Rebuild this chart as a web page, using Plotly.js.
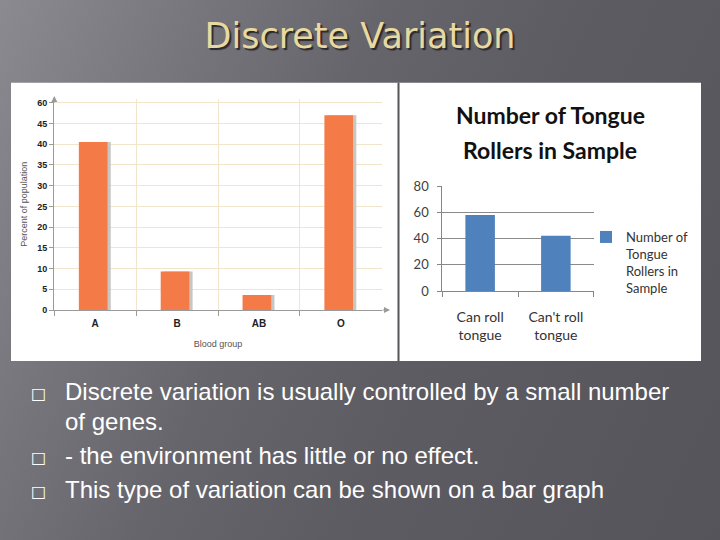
<!DOCTYPE html>
<html>
<head>
<meta charset="utf-8">
<script src="https://cdn.plot.ly/plotly-3.0.1.min.js"></script>
<style>
  html, body { margin: 0; padding: 0; }
  #slide {
    width: 720px; height: 540px;
    background: linear-gradient(115deg, #8b8a90 0%, #76757b 22%, #66656b 40%, #5d5c62 60%, #55545a 100%);
  }
</style>
</head>
<body>
<div id="slide"></div>
<script>
// ---- data ----
const slideTitle = 'Discrete Variation';

const bloodGroups = ['A', 'B', 'AB', 'O'];
const percentOfPopulation = [40.5, 9.3, 3.6, 47];
const percentTickVals = [0, 5, 10, 15, 20, 25, 30, 35, 40, 45, 50];
const percentTickText = ['0', '5', '10', '15', '20', '25', '30', '35', '40', '45', '60'];

const tongueCategories = ['Can roll tongue', "Can't roll tongue"];
const tongueTickText = ['Can roll<br>tongue', "Can't roll<br>tongue"];
const tongueRollers = [58, 42];
const tongueSeriesName = 'Number of<br>Tongue<br>Rollers in<br>Sample';
const tongueTitleLines = ['Number of Tongue', 'Rollers in Sample'];

const bulletLines = [
  'Discrete variation is usually controlled by a small number',
  'of genes.',
  '- the environment has little or no effect.',
  'This type of variation can be shown on a bar graph'
];

// ---- helpers (pixel -> paper) ----
const W = 720, H = 540;
const px = x => x / W;
const py = y => 1 - y / H;

const orange = '#f47a47';
const shadow = '#c9c7c4';
const blue = '#4f81bd';
const beige = '#f1e6cb';

const traces = [
  { type: 'bar', x: bloodGroups, y: percentOfPopulation, xaxis: 'x', yaxis: 'y',
    marker: { color: shadow }, width: 0.35, offset: -0.16, hoverinfo: 'skip', showlegend: false },
  { type: 'bar', x: bloodGroups, y: percentOfPopulation, xaxis: 'x', yaxis: 'y',
    marker: { color: orange }, width: 0.35, offset: -0.2, name: 'Percent of population', showlegend: false },
  { type: 'bar', x: tongueCategories, y: tongueRollers, xaxis: 'x2', yaxis: 'y2',
    marker: { color: blue }, width: 0.39, name: tongueSeriesName, showlegend: true }
];

const annotations = [
  { text: tongueTitleLines[0], xref: 'paper', yref: 'paper', x: px(550), y: py(115), showarrow: false,
    xanchor: 'center', yanchor: 'middle', font: { family: 'Lato', size: 23, color: '#111' , weight: 'bold'} },
  { text: tongueTitleLines[1], xref: 'paper', yref: 'paper', x: px(550), y: py(150), showarrow: false,
    xanchor: 'center', yanchor: 'middle', font: { family: 'Lato', size: 23, color: '#111', weight: 'bold' } },
  // axis arrowheads (left chart)
  { xref: 'paper', yref: 'paper', x: px(54.3), y: py(96), ax: 0, ay: 8, axref: 'pixel', ayref: 'pixel',
    showarrow: true, arrowhead: 2, arrowsize: 1, arrowwidth: 1.2, arrowcolor: '#9a9a9a', text: '' },
  { xref: 'paper', yref: 'paper', x: px(390), y: py(310), ax: -9, ay: 0, axref: 'pixel', ayref: 'pixel',
    showarrow: true, arrowhead: 2, arrowsize: 1, arrowwidth: 1.2, arrowcolor: '#9a9a9a', text: '' }
];

const bulletY = [391, 421, 455, 489];
bulletLines.forEach((t, i) => {
  annotations.push({ text: t, xref: 'paper', yref: 'paper', x: px(63), y: py(bulletY[i]), showarrow: false,
    xanchor: 'left', yanchor: 'middle', font: { family: 'Liberation Sans', size: 24, color: '#ffffff' } });
});
[0, 2, 3].forEach(i => {
  annotations.push({ text: '\u25A1', xref: 'paper', yref: 'paper', x: px(38.5), y: py(bulletY[i] + 2), showarrow: false,
    xanchor: 'center', yanchor: 'middle', font: { family: 'DejaVu Sans', size: 16, color: '#ffffff' } });
});

const layout = {
  width: W, height: H,
  margin: { l: 0, r: 0, t: 0, b: 0 },
  paper_bgcolor: 'rgba(0,0,0,0)',
  plot_bgcolor: 'rgba(0,0,0,0)',
  barmode: 'overlay',
  title: { text: slideTitle, x: 0.5, xanchor: 'center', y: py(36), yanchor: 'middle',
    font: { family: 'DejaVu Sans', size: 35, color: '#e8d9a2', shadow: '2px 2px 1px #2a2a2e' } },
  xaxis: {
    domain: [px(54.3), px(381.7)], anchor: 'y', type: 'category', range: [-0.5, 3.5],
    tickson: 'boundaries', ticks: 'outside', ticklen: 5, tickcolor: '#9a9a9a',
    ticklabelstandoff: 4,
    showgrid: true, gridcolor: beige, gridwidth: 1,
    showline: true, linecolor: '#9a9a9a', linewidth: 1.2,
    tickfont: { family: 'Liberation Sans', size: 10, color: '#222', weight: 'bold' },
    title: { text: 'Blood group', font: { family: 'Liberation Sans', size: 9, color: '#555' }, standoff: 12 },
    fixedrange: true
  },
  yaxis: {
    domain: [py(310), py(98.6)], anchor: 'x', range: [0, 51],
    tickvals: percentTickVals, ticktext: percentTickText,
    ticks: 'outside', ticklen: 4, tickcolor: '#9a9a9a',
    showgrid: true, gridcolor: beige, gridwidth: 1, zeroline: false,
    showline: true, linecolor: '#9a9a9a', linewidth: 1.2,
    tickfont: { family: 'Liberation Sans', size: 9, color: '#222', weight: 'bold' },
    title: { text: 'Percent of population', font: { family: 'Liberation Sans', size: 9, color: '#555' }, standoff: 8 },
    fixedrange: true
  },
  xaxis2: {
    domain: [px(442.3), px(593.7)], anchor: 'y2', type: 'category', range: [-0.5, 1.5],
    tickvals: tongueCategories, ticktext: tongueTickText,
    tickson: 'boundaries', ticks: 'outside', ticklen: 5, tickcolor: '#868686',
    ticklabelstandoff: 13,
    showgrid: false, showline: true, linecolor: '#868686', linewidth: 1,
    tickfont: { family: 'Lato', size: 14, color: '#333' },
    fixedrange: true
  },
  yaxis2: {
    domain: [py(291), py(186)], anchor: 'x2', range: [0, 80], dtick: 20,
    ticks: 'outside', ticklen: 4, tickcolor: '#868686',
    ticklabelstandoff: 6,
    showgrid: true, gridcolor: '#8a8a8a', gridwidth: 1, zeroline: false,
    showline: true, linecolor: '#868686', linewidth: 1,
    tickfont: { family: 'Lato', size: 13, color: '#404040' },
    fixedrange: true
  },
  showlegend: true,
  legend: { x: px(586), xanchor: 'left', y: py(222), yanchor: 'top', valign: 'top',
    bgcolor: 'rgba(0,0,0,0)', font: { family: 'Lato', size: 13, color: '#333' }, itemwidth: 30 },
  shapes: [
    { type: 'rect', xref: 'paper', yref: 'paper', x0: px(11), x1: px(701), y0: py(361), y1: py(82.7),
      fillcolor: '#ffffff', line: { width: 0 }, layer: 'below' },
    { type: 'line', xref: 'paper', yref: 'paper', x0: px(398.5), x1: px(398.5), y0: py(361), y1: py(82.7),
      line: { color: '#555559', width: 2 }, layer: 'below' }
  ],
  annotations: annotations
};

Plotly.newPlot('slide', traces, layout, { displayModeBar: false, staticPlot: true });
</script>
</body>
</html>
